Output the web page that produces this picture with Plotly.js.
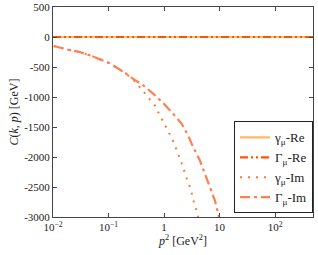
<!DOCTYPE html>
<html><head><meta charset="utf-8">
<script src="https://cdn.plot.ly/plotly-3.0.1.min.js"></script>
<style>html,body{margin:0;padding:0;background:#fff;}#plot{width:318px;height:255px;}</style>
</head><body><div id="plot"></div>
<script>
// Data
const reX = [0.01, 0.1, 1, 10, 100, 500];
const gammaRe = [0, 0, 0, 0, 0, 0];
const GammaRe = [0, 0, 0, 0, 0, 0];
const gammaImX = [0.0103, 0.0174, 0.0303, 0.0519, 0.105, 0.2, 0.3, 0.365, 0.449, 0.552, 0.68, 0.78, 0.90, 1.03, 1.22, 1.39, 1.56, 1.79, 1.98, 2.20, 2.43, 2.71, 2.99, 3.25, 3.48, 3.84, 4.2];
const gammaIm  = [-150, -205, -250, -322, -438, -600, -740, -833, -943, -1027, -1138, -1250, -1360, -1472, -1583, -1693, -1805, -1943, -2055, -2167, -2305, -2417, -2527, -2655, -2777, -2888, -3050];
const GammaImX = [0.0103, 0.0174, 0.0303, 0.0519, 0.105, 0.2, 0.3, 0.419, 0.634, 0.96, 1.45, 2.06, 2.70, 3.33, 4.40, 5.41, 6.66, 8.2, 9.4, 10.0];
const GammaIm  = [-150, -205, -250, -322, -438, -600, -720, -805, -943, -1100, -1277, -1443, -1638, -1833, -2055, -2277, -2500, -2722, -2943, -3050];
const xTickVals = [0.01, 0.1, 1, 10, 100];
const xTickText = ['10<sup>−2</sup>', '10<sup>−1</sup>', '1', '10', '10<sup>2</sup>'];
const yTickVals = [500, 0, -500, -1000, -1500, -2000, -2500, -3000];
const yTickText = ['500', '0', '-500', '-1000', '-1500', '-2000', '-2500', '-3000'];

const serif = 'Liberation Serif, DejaVu Serif, serif';
const traces = [
  {x: reX, y: gammaRe, name: 'γ<sub>μ</sub>-Re', mode: 'lines', line: {color: '#fdb863', width: 2.2, dash: 'solid'}},
  {x: reX, y: GammaRe, name: 'Γ<sub>μ</sub>-Re', mode: 'lines', line: {color: '#ff5500', width: 2.2, dash: '8px,3px,2px,3px,2px,3px'}},
  {x: gammaImX, y: gammaIm, name: 'γ<sub>μ</sub>-Im', mode: 'lines', line: {color: '#ff7733', width: 2, dash: '2px,6px'}},
  {x: GammaImX, y: GammaIm, name: 'Γ<sub>μ</sub>-Im', mode: 'lines', line: {color: '#ff7f50', width: 2.2, dash: '10px,4px,3px,4px'}}
];
const layout = {
  width: 318, height: 255,
  margin: {l: 53, r: 5, t: 7, b: 38},
  paper_bgcolor: '#fff', plot_bgcolor: '#fff',
  font: {family: serif, size: 11, color: '#222'},
  showlegend: true,
  legend: {x: 1, xanchor: 'right', y: 0.017, yanchor: 'bottom', bgcolor: '#fff', bordercolor: '#222', borderwidth: 1,
           font: {family: serif, size: 13, color: '#222'}, tracegroupgap: 0, itemwidth: 30},
  xaxis: {type: 'log', range: [-2, Math.log10(480)], tickvals: xTickVals, ticktext: xTickText,
          ticks: 'inside', ticklen: 4, tickcolor: '#444', showline: true, linecolor: '#444', linewidth: 1, mirror: 'ticks',
          showgrid: false, zeroline: false,
          title: {text: '<i>p</i><sup>2</sup> [GeV<sup>2</sup>]', standoff: 4, font: {family: serif, size: 12}}},
  yaxis: {range: [-3000, 500], tickvals: yTickVals, ticktext: yTickText,
          ticks: 'inside', ticklen: 4, tickcolor: '#444', showline: true, linecolor: '#444', linewidth: 1, mirror: 'ticks',
          showgrid: false, zeroline: false,
          title: {text: '<i>C</i>(<i>k</i>, <i>p</i>) [GeV]', standoff: 2, font: {family: serif, size: 12}}}
};
Plotly.newPlot('plot', traces, layout, {displayModeBar: false, staticPlot: true});
</script></body></html>
